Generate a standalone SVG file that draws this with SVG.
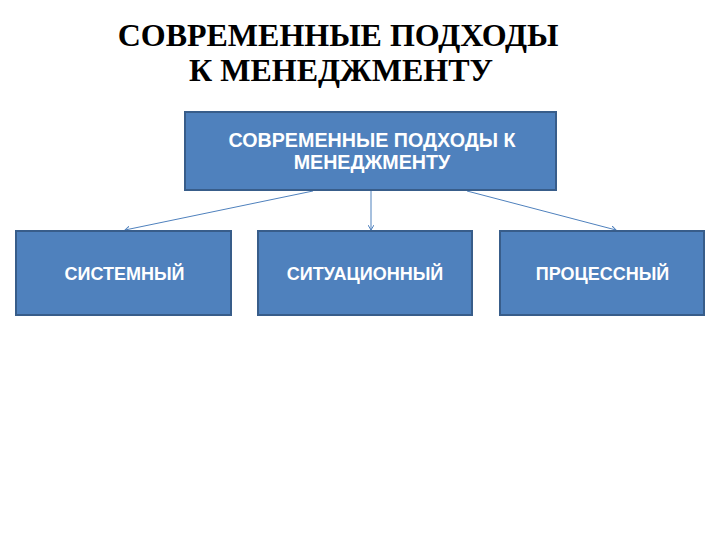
<svg xmlns="http://www.w3.org/2000/svg" width="720" height="540" viewBox="0 0 720 540">
<style>
.box{fill:#4F81BD;stroke:#385D8A;stroke-width:2}
.lbl{font-family:"Liberation Sans",Arial,sans-serif;font-weight:bold;font-size:18px;fill:#fff;text-anchor:middle}
.lbl2{font-size:19.7px}
.title{font-family:"Liberation Serif","Times New Roman",serif;font-weight:bold;font-size:32px;fill:#000;text-anchor:middle}
.conn{stroke:#4F81BD;stroke-width:1;fill:none;marker-end:url(#arr)}
</style>
<defs>
<marker id="arr" markerWidth="6" markerHeight="6" refX="5" refY="3" orient="auto" markerUnits="userSpaceOnUse">
<path d="M0,0 L5,3 L0,6" fill="none" stroke="#4F81BD" stroke-width="1"/>
</marker>
</defs>
<rect width="720" height="540" fill="#fff"/>
<g id="title">
<text class="title" x="338" y="46">СОВРЕМЕННЫЕ ПОДХОДЫ</text>
<text class="title" x="341" y="81">К МЕНЕДЖМЕНТУ</text>
</g>
<g id="connectors">
<line class="conn" x1="313" y1="191" x2="125" y2="230"/>
<line class="conn" x1="371" y1="191" x2="371" y2="230"/>
<line class="conn" x1="467" y1="191" x2="616" y2="230"/>
</g>
<g id="root">
<rect class="box" x="185" y="112" width="371" height="78"/>
<text class="lbl lbl2" x="372" y="147">СОВРЕМЕННЫЕ ПОДХОДЫ К</text>
<text class="lbl lbl2" x="372" y="169">МЕНЕДЖМЕНТУ</text>
</g>
<g id="n1">
<rect class="box" x="16" y="231" width="215" height="84"/>
<text class="lbl" x="124.5" y="280">СИСТЕМНЫЙ</text>
</g>
<g id="n2">
<rect class="box" x="258" y="231" width="214" height="84"/>
<text class="lbl" x="365" y="280">СИТУАЦИОННЫЙ</text>
</g>
<g id="n3">
<rect class="box" x="500" y="231" width="204" height="84"/>
<text class="lbl" x="602.5" y="280">ПРОЦЕССНЫЙ</text>
</g>
</svg>
